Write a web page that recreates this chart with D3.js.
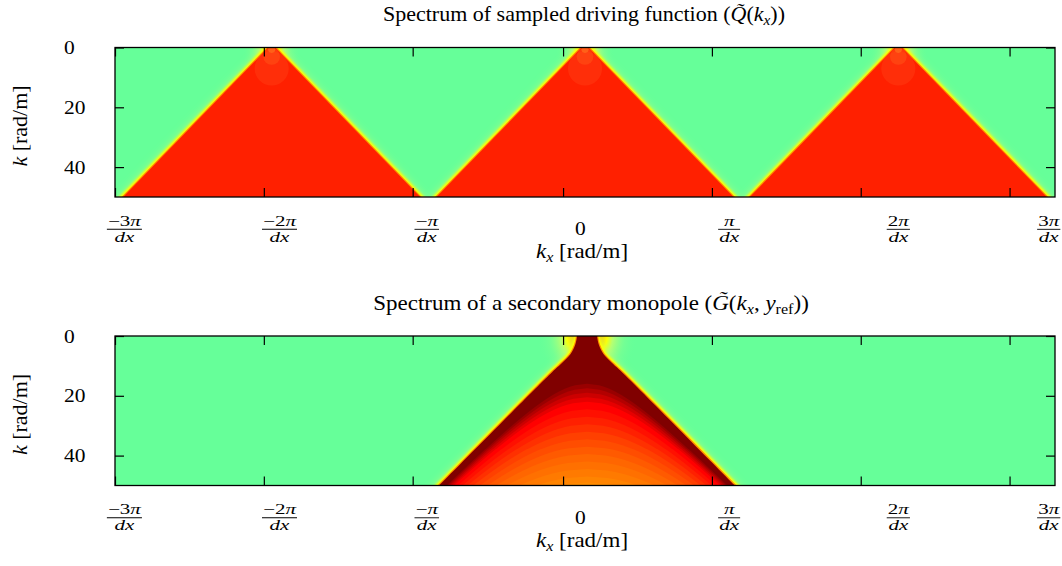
<!DOCTYPE html>
<html>
<head>
<meta charset="utf-8">
<title>Spectra</title>
<script src="https://cdn.jsdelivr.net/npm/d3@7"></script>
<style>
  body { margin: 0; background: #fff; }
  text { font-family: "Liberation Serif", "DejaVu Serif", serif; fill: #000; }
</style>
</head>
<body>
<div id="chart"></div>
<script>
// kx is given in units of pi/dx, k in rad/m
var kxRange = [-3, 3];
var kRange = [0, 50];
var yTicks = [0, 20, 40];
// tick marks and their labels do not line up in the original figure
var xTicks = [-3, -2.05, -1.1, -0.14, 0.81, 1.76, 2.71];
var xLabelAt = [-2.94, -1.95, -1.01, -0.03, 0.92, 2.0, 2.96];
var xTickNum = ["\u22123", "\u22122", "\u2212", "0", "", "2", "3"];

// top panel: repeated spectra of the sampled driving function
var apexKx = [-2, 0, 2];
var triK = [0, 50];
var triHalfWidth = [0.022, 0.948];

// bottom panel: propagating region of the monopole spectrum
var monoApex = 0.013;
var monoK = [0, 3, 6, 9, 12, 50];
var monoHalfWidth = [0.064, 0.076, 0.105, 0.16, 0.222, 0.945];
// colour bands, by the k where each band starts at kx = 0
var bandK = [16, 17.5, 19, 20.5, 22, 24.5, 27, 29.5, 32, 34.5, 37, 39.5, 42, 44.5, 47, 49];
var bandColor = ["#990000", "#b30000", "#cc0000", "#e60000", "#ff0000", "#ff1000", "#ff2000", "#ff3000",
                 "#ff4000", "#ff4d00", "#ff5a00", "#ff6600", "#ff7000", "#ff7a00", "#ff8400", "#ff8c00"];

var green = "#66ff99";
var plotLeft = 115, plotW = 940, plotH = 149.5;
var panelTop = [47.5, 336];

var svg = d3.select("#chart").append("svg")
    .attr("width", 1062)
    .attr("height", 566);
var defs = svg.append("defs");

[["blurS", 1.1], ["blurL", 3]].forEach(function(f) {
  defs.append("filter").attr("id", f[0])
      .attr("x", "-20%").attr("y", "-20%").attr("width", "140%").attr("height", "140%")
    .append("feGaussianBlur").attr("stdDeviation", f[1]);
});

function radial(id, stops) {
  var g = defs.append("radialGradient").attr("id", id);
  stops.forEach(function(s) {
    g.append("stop").attr("offset", s[0]).attr("stop-color", s[1]).attr("stop-opacity", s[2]);
  });
}
radial("glowTop", [[0, "#ffff00", 1], [0.25, "#ffff00", 1], [0.4, "#c4ff6e", 0.8], [0.65, "#90ff88", 0.4], [1, green, 0]]);
radial("glowMono", [[0, "#ff4000", 1], [0.22, "#ff7000", 1], [0.3, "#ffd000", 1], [0.4, "#ffff00", 1],
                    [0.52, "#c8ff6a", 0.8], [0.75, "#8cff8c", 0.35], [1, green, 0]]);

var x = d3.scaleLinear().domain(kxRange).range([plotLeft, plotLeft + plotW]);
var line = d3.line();
var smooth = d3.line().curve(d3.curveCatmullRom);

function edgePath(y, center, ks, hws, gen) {
  // outline of a region symmetric around center, extended past the frame so the clip cuts it
  var n = ks.length;
  var slope = (hws[n - 1] - hws[n - 2]) / (ks[n - 1] - ks[n - 2]);
  var kk = [-4].concat(ks, [ks[n - 1] + 4]);
  var hw = [hws[0]].concat(hws, [hws[n - 1] + 4 * slope]);
  var left = kk.map(function(k, i) { return [x(center - hw[i]), y(k)]; }).reverse();
  var right = kk.map(function(k, i) { return [x(center + hw[i]), y(k)]; });
  return (gen || line)(left.concat(right)) + "Z";
}

function bandPath(y, c, slope) {
  var ks = d3.range(c, 54, 0.5);
  var right = ks.map(function(k) { return [x(monoApex + slope * Math.sqrt(k * k - c * c)), y(k)]; });
  var left = ks.map(function(k) { return [x(monoApex - slope * Math.sqrt(k * k - c * c)), y(k)]; }).reverse();
  return line(left.concat(right)) + "Z";
}

function drawEdges(g, d) {
  g.append("path").attr("d", d).attr("fill", "none").attr("stroke", "#b4ff78")
      .attr("stroke-width", 10).attr("stroke-opacity", 0.5).attr("filter", "url(#blurL)");
  g.append("path").attr("d", d).attr("fill", "none").attr("stroke", "#ffff00")
      .attr("stroke-width", 6).attr("filter", "url(#blurS)");
  g.append("path").attr("d", d).attr("fill", "none").attr("stroke", "#ff8a00")
      .attr("stroke-width", 2.2);
}

// serif text stretched a little sideways, to come near the width of the original LaTeX labels
function stretched(parent, cx, cy, sx, size, anchor, rotate) {
  var tr = "translate(" + cx + "," + cy + ")" + (rotate ? " rotate(" + rotate + ")" : "") + " scale(" + sx + ",1)";
  return parent.append("text").attr("transform", tr)
      .attr("text-anchor", anchor || "middle").style("font-size", size + "px");
}

function title(cx, top, sx, parts) {
  var t = stretched(svg, cx, top - 26.5, sx, 20);
  parts.forEach(function(p) {
    var s = t.append("tspan").text(p[0]);
    if (p[1] == "i") s.style("font-style", "italic");
    if (p[1] == "sub" || p[1] == "subi") {
      s.attr("dy", 4).style("font-size", "14px");
      if (p[1] == "subi") s.style("font-style", "italic");
    }
    if (p[2]) s.attr("dy", p[2]);
  });
}

function kxLabel(g, y0) {
  var t = stretched(g, 582, y0 + 61, 1.15, 20);
  t.append("tspan").style("font-style", "italic").text("k");
  t.append("tspan").style("font-style", "italic").style("font-size", "14px").attr("dy", 4).text("x");
  t.append("tspan").attr("dy", -4).text(" [rad/m]");
}

function panel(p) {
  var top = panelTop[p];
  var y = d3.scaleLinear().domain(kRange).range([top, top + plotH]);
  var g = svg.append("g");
  var clipId = "clip" + p;
  defs.append("clipPath").attr("id", clipId).append("rect")
      .attr("x", plotLeft).attr("y", top).attr("width", plotW).attr("height", plotH);
  var area = g.append("g").attr("clip-path", "url(#" + clipId + ")");

  area.append("rect").attr("x", plotLeft).attr("y", top)
      .attr("width", plotW).attr("height", plotH).attr("fill", green);

  if (p == 0) {
    apexKx.forEach(function(c) {
      area.append("ellipse").attr("cx", x(c)).attr("cy", y(0))
          .attr("rx", x(c + 0.19) - x(c)).attr("ry", y(13) - y(0))
          .attr("fill", "url(#glowTop)");
    });
    apexKx.forEach(function(c) {
      drawEdges(area, edgePath(y, c, triK, triHalfWidth));
    });
    apexKx.forEach(function(c) {
      area.append("path").attr("d", edgePath(y, c, triK, triHalfWidth)).attr("fill", "#ff2000");
      area.append("circle").attr("cx", x(c)).attr("cy", y(7))
          .attr("r", y(5.7) - y(0)).attr("fill", "#ff4a1a").attr("fill-opacity", 0.35);
      area.append("circle").attr("cx", x(c)).attr("cy", y(3))
          .attr("r", y(2.8) - y(0)).attr("fill", "#ff5a1a").attr("fill-opacity", 0.45);
      area.append("circle").attr("cx", x(c)).attr("cy", y(0.6))
          .attr("r", y(1.2) - y(0)).attr("fill", "#ff7a20").attr("fill-opacity", 0.6);
    });
  } else {
    area.append("ellipse").attr("cx", x(monoApex)).attr("cy", y(0))
        .attr("rx", x(monoApex + 0.32) - x(monoApex)).attr("ry", y(18) - y(0))
        .attr("fill", "url(#glowMono)");
    var d = edgePath(y, monoApex, monoK, monoHalfWidth, smooth);
    drawEdges(area, d);
    area.append("path").attr("d", d).attr("fill", "#800000");
    var slope = monoHalfWidth[monoHalfWidth.length - 1] / kRange[1];
    area.selectAll("path.band").data(bandK).enter().append("path")
        .attr("class", "band")
        .attr("d", function(c) { return bandPath(y, c, slope); })
        .attr("fill", function(c, i) { return bandColor[i]; });
  }

  // frame and inward ticks
  g.append("g").attr("transform", "translate(0," + (top + plotH) + ")")
      .call(d3.axisBottom(x).tickValues(xTicks).tickSize(-9).tickFormat(""));
  g.append("g").attr("transform", "translate(0," + top + ")")
      .call(d3.axisTop(x).tickValues(xTicks).tickSize(-9).tickFormat(""));
  g.append("g").attr("transform", "translate(" + plotLeft + ",0)")
      .call(d3.axisLeft(y).tickValues(yTicks).tickSize(-9).tickFormat(""));
  g.append("g").attr("transform", "translate(" + (plotLeft + plotW) + ",0)")
      .call(d3.axisRight(y).tickValues(yTicks).tickSize(-9).tickFormat(""));
  g.selectAll(".domain").remove();
  g.selectAll(".tick line").attr("stroke", "#000").attr("stroke-width", 1.2);
  g.append("rect").attr("x", plotLeft).attr("y", top).attr("width", plotW).attr("height", plotH)
      .attr("fill", "none").attr("stroke", "#000").attr("stroke-width", 1.3);

  // y tick labels (left aligned as in the original)
  yTicks.forEach(function(v) {
    stretched(g, plotLeft - 51, y(v) + 6.5, 1.1, 19.5, "start").text(v);
  });

  // y axis label
  var yl = stretched(g, 27, top + 78.5, 1.1, 20, "middle", -90);
  yl.append("tspan").style("font-style", "italic").text("k");
  yl.append("tspan").text(" [rad/m]");

  // x tick labels as fractions
  var base = top + plotH;
  xLabelAt.forEach(function(v, i) {
    var cx = x(v);
    if (xTickNum[i] == "0") {
      stretched(g, cx, base + 38, 1.1, 19.5).text("0");
      return;
    }
    var fg = g.append("g").attr("transform", "translate(" + cx + "," + (base + 28.5) + ") scale(1.45,1)");
    var num = fg.append("text").attr("y", 0).attr("text-anchor", "middle").style("font-size", "14.5px");
    if (xTickNum[i]) num.append("tspan").text(xTickNum[i]);
    num.append("tspan").style("font-style", "italic").text("\u03c0");
    var den = fg.append("text").attr("y", 16.2).attr("text-anchor", "middle")
        .style("font-size", "14.5px").style("font-style", "italic").text("dx");
    var w = Math.max(num.node().getComputedTextLength(), den.node().getComputedTextLength()) + 1.5;
    fg.append("line").attr("x1", -w / 2).attr("x2", w / 2).attr("y1", 3.8).attr("y2", 3.8)
        .attr("stroke", "#000").attr("stroke-width", 0.9);
  });

  kxLabel(g, base);
}

panel(0);
panel(1);

title(584, panelTop[0], 1.1, [["Spectrum of sampled driving function ("], ["Q\u0303", "i"], ["("], ["k", "i"], ["x", "subi"], ["))", "", -4]]);
title(591, panelTop[1], 1.15, [["Spectrum of a secondary monopole ("], ["G\u0303", "i"], ["("], ["k", "i"], ["x", "subi"],
                    [", ", "", -4], ["y", "i"], ["ref", "sub"], ["))", "", -4]]);
</script>
</body>
</html>
